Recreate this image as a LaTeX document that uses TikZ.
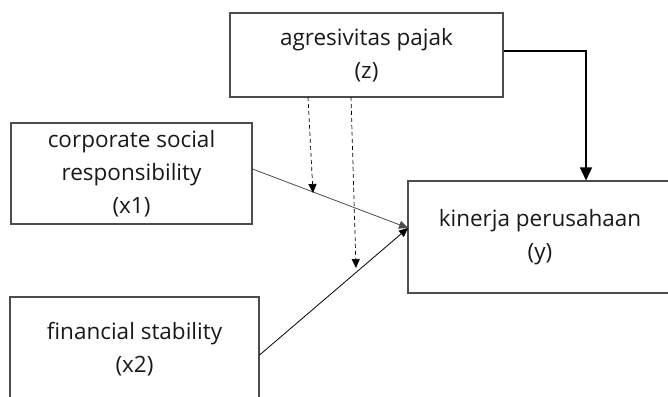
\documentclass[tikz,border=0pt]{standalone}
\usepackage{fontspec}
\setmainfont{Open Sans}
\usetikzlibrary{arrows.meta}
\begin{document}
\begin{tikzpicture}[x=1pt,y=-1pt,
  box/.style={draw=black!70,line width=1.1pt,fill=none,align=center,inner sep=0pt,
    font=\fontsize{22.5}{33}\selectfont,text=black!90},
  link/.style={line width=0.8pt,-{Triangle[length=9pt,width=8pt]}},
  dlink/.style={line width=0.7pt,dash pattern=on 4pt off 3pt,-{Triangle[length=9pt,width=8pt]}},
  main/.style={line width=1.6pt,-{Triangle[length=13pt,width=12pt]}}]
\useasboundingbox (0,0) rectangle (668,396);
\clip (0,0) rectangle (668,396);
\node[box,minimum width=273pt,minimum height=84pt] (z) at (366.5,55) {agresivitas pajak\\(z)};
\node[box,minimum width=241pt,minimum height=101pt] (x1) at (131.5,173.5) {corporate social\\responsibility\\(x1)};
\node[box,minimum width=249pt,minimum height=104pt] (x2) at (134.5,349) {financial stability\\(x2)};
\node[box,minimum width=264pt,minimum height=112pt] (y) at (540,237) {kinerja perusahaan\\(y)};
\coordinate (t) at (408,228);
\coordinate (zr) at (586,51);
\coordinate (d1s) at (308,97);
\coordinate (d1e) at (313,193);
\coordinate (d2s) at (351,97);
\coordinate (d2e) at (356,268);
\draw[link,draw=black!70] (x1.east |- 0,169) -- (t);
\draw[link] (x2.east |- 0,355) -- (t);
\draw[main] (z.east |- 0,51) -- (zr) -- (zr |- y.north);
\draw[dlink] (d1s) -- (d1e);
\draw[dlink] (d2s) -- (d2e);
\end{tikzpicture}
\end{document}
